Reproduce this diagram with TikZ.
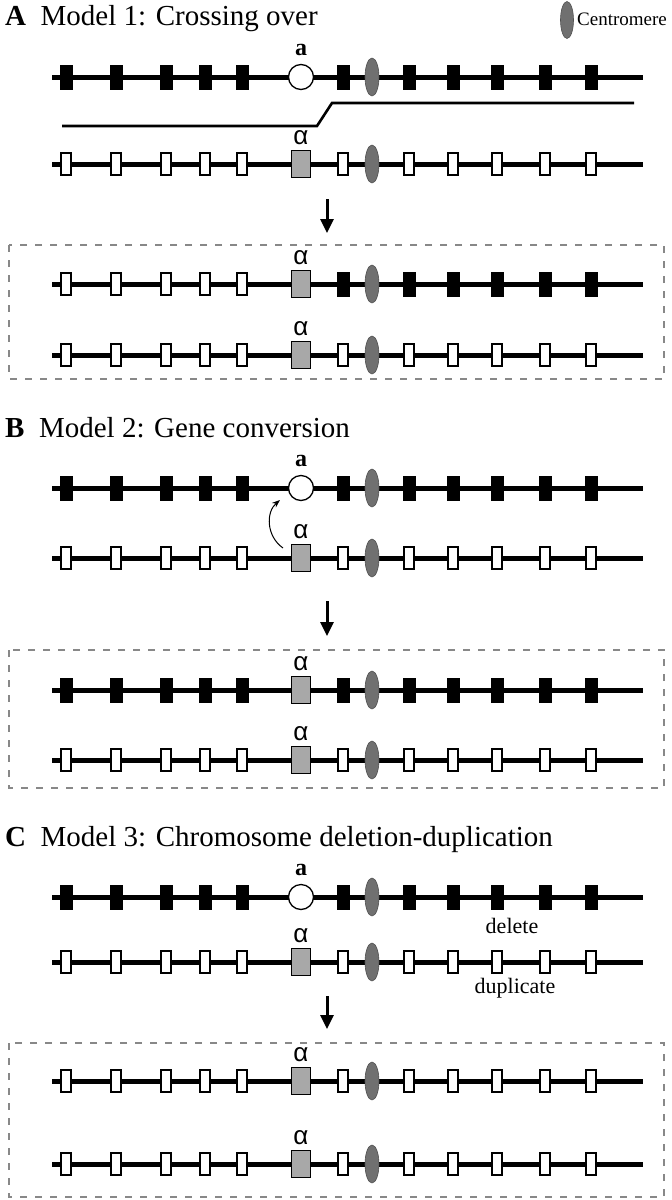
\documentclass[tikz,border=0pt]{standalone}
\usepackage{fontspec}
\setmainfont{Liberation Serif}
\newfontfamily\alphafont{Liberation Sans}
\usetikzlibrary{shapes.geometric,arrows.meta}
\definecolor{cengray}{HTML}{707070}
\definecolor{cenedge}{HTML}{505050}
\definecolor{sqgray}{HTML}{A8A8A8}
\definecolor{dashgray}{HTML}{888888}
\tikzset{
  chrline/.style={line width=5pt, black},
  blk/.style={rectangle, fill=black, minimum width=13pt, minimum height=25pt, inner sep=0pt},
  wht/.style={rectangle, draw=black, line width=2.2pt, fill=white, minimum width=10pt, minimum height=22pt, inner sep=0pt},
  circgene/.style={circle, draw=black, line width=1.3pt, fill=white, minimum size=25pt, inner sep=0pt},
  sqgene/.style={rectangle, draw=black, line width=0.9pt, fill=sqgray, minimum width=19pt, minimum height=27pt, inner sep=0pt},
  cen/.style={ellipse, draw=cenedge, line width=0.6pt, fill=cengray, minimum width=14pt, minimum height=38pt, inner sep=0pt},
  albl/.style={anchor=base, inner sep=0pt, font=\fontsize{24}{24}\selectfont\bfseries},
  alphalbl/.style={anchor=base, inner sep=0pt, font=\fontsize{26}{26}\selectfont\alphafont},
  ttl/.style={anchor=base west, inner sep=0pt, font=\fontsize{29}{29}\selectfont},
  smalltxt/.style={anchor=base, inner sep=0pt, font=\fontsize{22}{22}\selectfont},
  dbox/.style={dashgray, line width=2pt, dash pattern=on 7pt off 8pt},
  bigarrow/.style={line width=3pt, -{Triangle[length=14pt,width=13pt]}},
  xline/.style={line width=2.6pt, line join=miter},
  curvarrow/.style={line width=1pt, -{Stealth[length=8pt,width=6pt]}}
}
\newcommand\chromrow[5]{%
  \coordinate (#1L) at (52,#2);
  \coordinate (#1R) at (643,#2);
  \draw[chrline] (#1L) -- (#1R);
  \foreach \gx [count=\gi] in {66,116,166,205,242} \node[#3] (#1l\gi) at (\gx,#2) {};
  \foreach \gx [count=\gi] in {343,409,453,497,545,591} \node[#5] (#1r\gi) at (\gx,#2) {};
  \node[#4] (#1m) at (301,#2) {};
  \node[cen] (#1c) at (372,#2) {};
}
\newcommand\alab[1]{\node[albl] (#1lab) at ([yshift=8pt]#1m.north) {a};}
\newcommand\alphalab[1]{\node[alphalbl] (#1lab) at ([yshift=6pt]#1m.north) {α};}
\begin{document}
\begin{tikzpicture}[x=1pt,y=-1pt]
\useasboundingbox (0,0) rectangle (672,1200);
% legend
\node[cen, minimum height=37pt, minimum width=13pt] (legcen) at (567,20) {};
\node[inner sep=0pt, anchor=west, font=\fontsize{19}{19}\selectfont] (legtxt) at (577,19) {Centromere};
% ---------- A ----------
\node[ttl] (titA) at (5,25) {\textbf{A}\hspace{0.5em}Model 1: Crossing over};
\chromrow{a1}{77}{blk}{circgene}{blk}
\alab{a1}
\coordinate (xa) at (62,126);
\coordinate (xb) at (317,126);
\coordinate (xc) at (332,103);
\coordinate (xd) at (634,103);
\draw[xline] (xa) -- (xb) -- (xc) -- (xd);
\chromrow{a2}{164}{wht}{sqgene}{wht}
\alphalab{a2}
\coordinate (arA1) at (327,199);
\coordinate (arA2) at (327,233);
\draw[bigarrow] (arA1) -- (arA2);
\coordinate (boxA1) at (9,245);
\coordinate (boxA2) at (664,379);
\draw[dbox] (boxA1) rectangle (boxA2);
\chromrow{a3}{284}{wht}{sqgene}{blk}
\alphalab{a3}
\chromrow{a4}{355}{wht}{sqgene}{wht}
\alphalab{a4}
% ---------- B ----------
\node[ttl] (titB) at (5,437) {\textbf{B}\hspace{0.5em}Model 2: Gene conversion};
\chromrow{b1}{488}{blk}{circgene}{blk}
\alab{b1}
\chromrow{b2}{558}{wht}{sqgene}{wht}
\alphalab{b2}
\coordinate (cvs) at (283,548);
\coordinate (cve) at (280,500);
\draw[curvarrow] (cvs) .. controls (266,536) and (266,512) .. (cve);
\coordinate (arB1) at (327,601);
\coordinate (arB2) at (327,636);
\draw[bigarrow] (arB1) -- (arB2);
\coordinate (boxB1) at (9,650);
\coordinate (boxB2) at (664,788);
\draw[dbox] (boxB1) rectangle (boxB2);
\chromrow{b3}{690}{blk}{sqgene}{blk}
\alphalab{b3}
\chromrow{b4}{760}{wht}{sqgene}{wht}
\alphalab{b4}
% ---------- C ----------
\node[ttl] (titC) at (5,846) {\textbf{C}\hspace{0.5em}Model 3: Chromosome deletion-duplication};
\chromrow{c1}{897}{blk}{circgene}{blk}
\alab{c1}
\node[smalltxt] (del) at (512,933) {delete};
\chromrow{c2}{962}{wht}{sqgene}{wht}
\alphalab{c2}
\node[smalltxt] (dup) at (515,993) {duplicate};
\coordinate (arC1) at (327,996);
\coordinate (arC2) at (327,1029);
\draw[bigarrow] (arC1) -- (arC2);
\coordinate (boxC1) at (9,1043);
\coordinate (boxC2) at (664,1197);
\draw[dbox] (boxC1) rectangle (boxC2);
\chromrow{c3}{1081}{wht}{sqgene}{wht}
\alphalab{c3}
\chromrow{c4}{1164}{wht}{sqgene}{wht}
\alphalab{c4}
\end{tikzpicture}
\end{document}
